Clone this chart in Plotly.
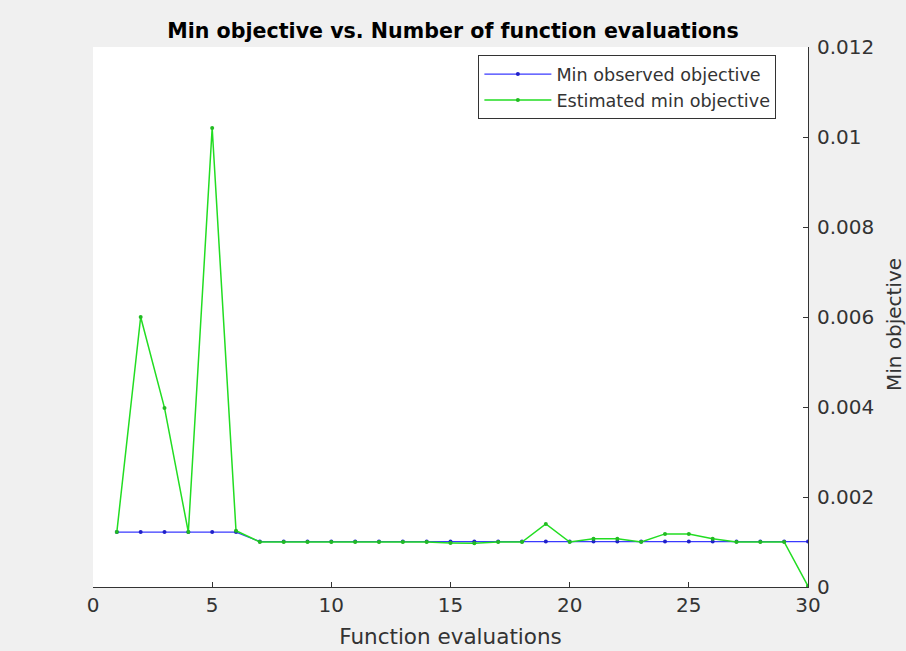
import plotly.graph_objects as go

evals = list(range(1, 31))
min_observed = [0.00122, 0.00122, 0.00122, 0.00122, 0.00122, 0.00122,
                0.00101, 0.00101, 0.00101, 0.00101, 0.00101, 0.00101,
                0.00101, 0.00101, 0.00101, 0.00101, 0.00101, 0.00101,
                0.00101, 0.00101, 0.00101, 0.00101, 0.00101, 0.00101,
                0.00101, 0.00101, 0.00101, 0.00101, 0.00101, 0.00101]
est_min = [0.00122, 0.0060, 0.00398, 0.00122, 0.0102, 0.00125,
           0.00100, 0.00100, 0.00100, 0.00100, 0.00100, 0.00100,
           0.00100, 0.00100, 0.00098, 0.00097, 0.00100, 0.00100,
           0.00140, 0.00100, 0.00107, 0.00107, 0.00100, 0.00118,
           0.00118, 0.00107, 0.00100, 0.00100, 0.00100, 0.00002]
y_ticks = [0, 0.002, 0.004, 0.006, 0.008, 0.01, 0.012]
y_ticktext = ["0", "0.002", "0.004", "0.006", "0.008", "0.01", "0.012"]
x_ticks = [0, 5, 10, 15, 20, 25, 30]

fig = go.Figure()
fig.add_trace(go.Scatter(x=evals, y=min_observed, mode="lines+markers",
                         name="Min observed objective",
                         line=dict(color="#3a3aff", width=1.2),
                         marker=dict(color="#2020c8", size=4)))
fig.add_trace(go.Scatter(x=evals, y=est_min, mode="lines+markers",
                         name="Estimated min objective",
                         line=dict(color="#22dd22", width=1.5),
                         marker=dict(color="#22bb22", size=4)))

font = "DejaVu Sans, Verdana, sans-serif"
fig.update_layout(
    width=906, height=651,
    margin=dict(l=93, r=98, t=47, b=64),
    paper_bgcolor="#f0f0f0", plot_bgcolor="white",
    font=dict(family=font, color="#333333", size=20),
    title=dict(text="<b>Min objective vs. Number of function evaluations</b>",
               x=0.5, xanchor="center", y=0.953, yanchor="middle",
               font=dict(size=20.6, color="black")),
    showlegend=True,
    legend=dict(x=0.539, y=0.985, xanchor="left", yanchor="top",
                bgcolor="white", bordercolor="#333333", borderwidth=1,
                font=dict(size=17.6, color="#333333"),
                tracegroupgap=0, itemwidth=67),
    xaxis=dict(range=[0, 30], tickvals=x_ticks, ticks="inside", ticklen=5,
               tickcolor="#333333", showline=True, linecolor="#333333",
               linewidth=1, showgrid=False, zeroline=False,
               automargin=False,
               title=dict(text="Function evaluations", standoff=12,
                          font=dict(size=21.5))),
    yaxis=dict(range=[0, 0.012], side="right", tickvals=y_ticks,
               ticktext=y_ticktext, ticks="inside", ticklen=5,
               tickcolor="#333333", showline=True, linecolor="#333333",
               linewidth=1, showgrid=False, zeroline=False,
               automargin=False, ticklabelstandoff=4),
    annotations=[dict(text="Min objective", textangle=-90,
                      xref="paper", yref="paper", x=1.1203, y=0.485,
                      xanchor="center", yanchor="middle", showarrow=False,
                      font=dict(size=20, color="#333333"))],
)

fig.write_html("out.html", config={"displayModeBar": False},
               post_script="document.body.style.margin='0px';")
